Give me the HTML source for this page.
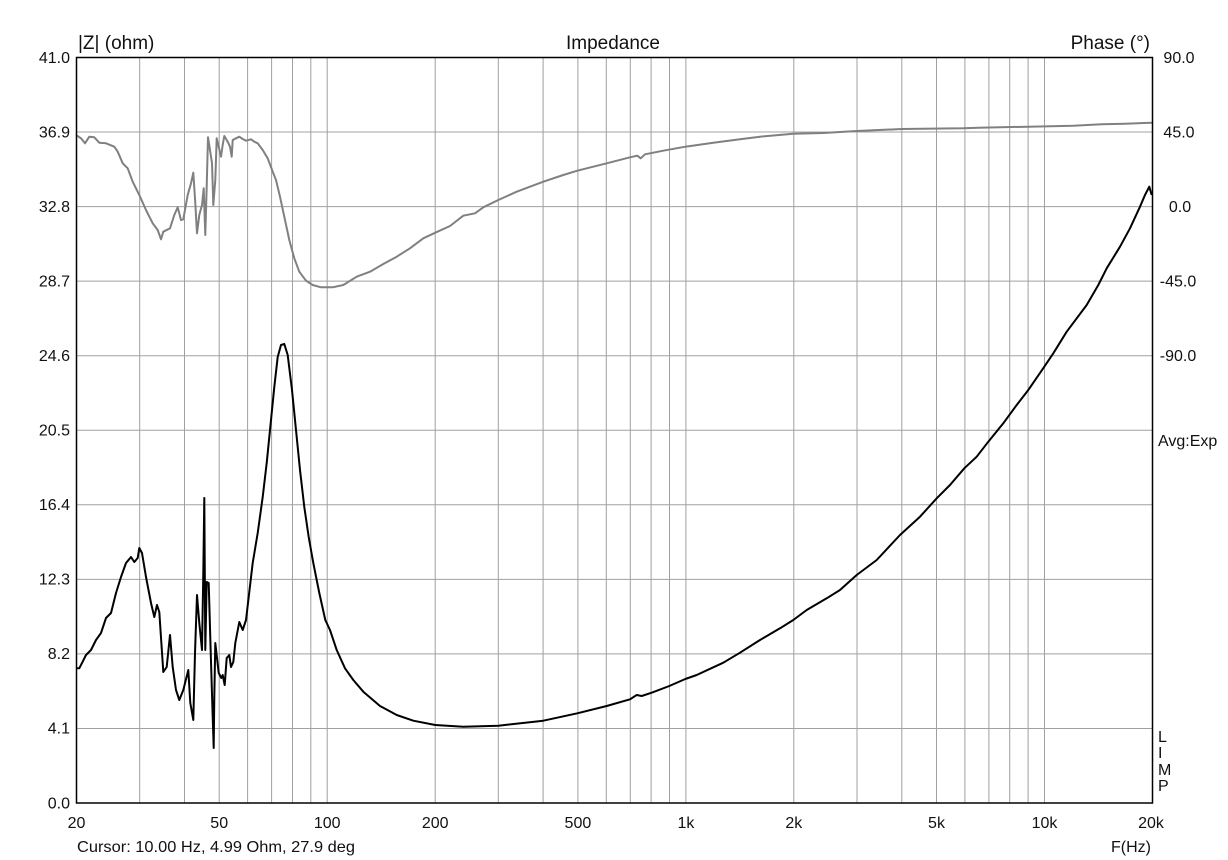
<!DOCTYPE html>
<html><head><meta charset="utf-8"><style>
html,body{margin:0;padding:0;background:#fff;}
svg{display:block;}
text{font-family:"Liberation Sans",Arial,sans-serif;font-size:16px;fill:#111;}
.t{font-size:19px;}
</style></head><body>
<svg width="1228" height="860" viewBox="0 0 1228 860" xmlns="http://www.w3.org/2000/svg">
<rect x="0" y="0" width="1228" height="860" fill="#fff"/>
<g stroke="#a0a0a0" stroke-width="1" fill="none">
<path d="M139.7 57.5V803M184.5 57.5V803M219.2 57.5V803M247.6 57.5V803M271.6 57.5V803M292.5 57.5V803M310.8 57.5V803M327.2 57.5V803M435.2 57.5V803M498.3 57.5V803M543.1 57.5V803M577.9 57.5V803M606.3 57.5V803M630.3 57.5V803M651.1 57.5V803M669.5 57.5V803M685.9 57.5V803M793.8 57.5V803M857 57.5V803M901.8 57.5V803M936.5 57.5V803M964.9 57.5V803M988.9 57.5V803M1009.7 57.5V803M1028.1 57.5V803M1044.5 57.5V803"/>
<path d="M76.5 132.05H1152.5M76.5 206.6H1152.5M76.5 281.15H1152.5M76.5 355.7H1152.5M76.5 430.25H1152.5M76.5 504.8H1152.5M76.5 579.35H1152.5M76.5 653.9H1152.5M76.5 728.45H1152.5"/>
</g>
<polyline fill="none" stroke="#808080" stroke-width="2" stroke-linejoin="round" points="76,135 81,138.3 85,143.3 89.3,136.7 94.3,137.3 99.3,142.7 106,143.3 114.3,146.7 117.7,151.7 122.7,163.3 127.7,168.3 132.7,181.7 139.3,195 146,210 152.7,223.3 157.7,230 161,239.3 163.3,231.7 170,228.3 174.3,215 177.7,207.3 181,220 183.3,219.3 187.7,195 191,183.3 193.3,172.7 195.3,203.3 197,233.3 199.3,215 202,205 203.7,188.3 205.3,235 206.7,186.7 208,137.3 210,150 212,163.3 213.3,205 215.3,180 216.7,138.3 218.7,146.7 221,156.7 222.7,145 224.3,136 227.7,141.7 230,146.7 231.7,156.7 232.7,140 236,138.3 239.3,136.7 242.7,139 246,140.7 251,139.3 254.3,141.7 257.7,143.3 262.7,150 267.7,158.3 272.7,171.7 276,180 280,196.7 284.3,216.7 289.3,240 294.3,258.3 299.3,271.7 306,280.7 312.7,285 321,287.3 332.7,287.3 343.3,285 356.7,276.7 370,271.7 383.3,264 396.7,256.7 410,248.3 423.3,238.3 435.3,232.7 450,226 463.3,215.7 475,213.3 483.3,207.3 498.3,200 516.7,191.7 543.3,181.7 563.3,175 577.3,170.7 606.7,163.3 630,157.3 637.3,155.7 640.7,158.3 645,154.3 663.3,150.7 685.3,146.7 713.3,142.7 740,139.3 760,136.7 793.3,133.7 823.3,133 856.7,131 901.7,129 963.3,128.3 978.3,127.7 1028.3,126.7 1073.3,125.7 1101.7,124.3 1125,123.7 1152.5,122.7"/>
<polyline fill="none" stroke="#000" stroke-width="2" stroke-linejoin="round" points="76,668.3 79.3,668.3 86,655 91,650 96,640 101,633 106,618 111,613 116,593 121,577 126,563 131,557 134.3,562 137.7,558 139.3,548 142,553 146,577 151,603 154.3,617 157,605 159.3,612 163.3,672 166.7,667 170,635 172.7,667 176,690 179.3,700 183.3,690 188.3,670 190.3,703 193.3,720 195,653 197,595 199.3,623 202,650 203.3,573 204.3,498 205.3,650 206.7,582 208.7,583 210.7,652 212.7,717 213.7,748 214.3,697 215.3,643 218.7,673 221.3,678 222.7,675 224.7,685 226.7,658 229.3,655 231,667 233.3,662 235.3,643 239.3,622 242.7,630 246,620 248.7,597 252.7,563 257.7,533 262.7,497 266.7,463 270,430 274.3,387 277.7,357 281,345 284.3,344 287.7,355 292,390 296,430 300,470 304.3,507 308.7,537 313.3,563 319.3,593 325.3,620 330,630 336.7,650 345,668.3 353.3,680 363.3,691.7 380,706 396.7,715 413.3,720.7 435.3,725 463.3,726.7 498.3,725.7 543.3,720.7 577.3,713.3 606.7,706 630,699.3 636.7,695 641.7,696 651.7,692.7 669.3,686 685.3,679 696.7,675 723.3,662.7 740,652.7 760,640 780,628.3 793.3,620 806.7,610 826.7,598.3 840,590 856.7,575 876.7,560 900,535 920,516.7 936.7,498.3 950,485 964.3,468.3 976.7,456.7 988.3,441.7 1003.3,423.3 1016.7,405 1028.3,390 1044.3,366.7 1053.3,353.3 1066.7,331.7 1086.7,305 1098.3,285 1106.7,268.3 1120,246.7 1130,228.3 1140,206.7 1145,195 1149.3,186.7 1151.7,195"/>
<rect x="76.5" y="57.5" width="1076" height="745.5" fill="none" stroke="#000" stroke-width="1.5"/>
<text class="t" x="78" y="49">|Z| (ohm)</text>
<text class="t" x="613" y="49" text-anchor="middle">Impedance</text>
<text class="t" x="1150" y="49" text-anchor="end">Phase (°)</text>
<g text-anchor="end">
<text x="70" y="63">41.0</text>
<text x="70" y="137.5">36.9</text>
<text x="70" y="212">32.8</text>
<text x="70" y="286.5">28.7</text>
<text x="70" y="361">24.6</text>
<text x="70" y="435.5">20.5</text>
<text x="70" y="510">16.4</text>
<text x="70" y="584.5">12.3</text>
<text x="70" y="659">8.2</text>
<text x="70" y="733.5">4.1</text>
<text x="70" y="808.5">0.0</text>
</g>
<g text-anchor="middle">
<text x="1179" y="63">90.0</text>
<text x="1179" y="137.5">45.0</text>
<text x="1180" y="212">0.0</text>
<text x="1178" y="286.5">-45.0</text>
<text x="1178" y="361">-90.0</text>
</g>
<text x="1158" y="446">Avg:Exp</text>
<text x="1158" y="742">L</text>
<text x="1158" y="758">I</text>
<text x="1158" y="775">M</text>
<text x="1158" y="791">P</text>
<g text-anchor="middle">
<text x="76.5" y="828">20</text>
<text x="219.2" y="828">50</text>
<text x="327.2" y="828">100</text>
<text x="435.2" y="828">200</text>
<text x="577.9" y="828">500</text>
<text x="685.9" y="828">1k</text>
<text x="793.8" y="828">2k</text>
<text x="936.5" y="828">5k</text>
<text x="1044.5" y="828">10k</text>
<text x="1151" y="828">20k</text>
</g>
<text x="77" y="852" textLength="278" lengthAdjust="spacingAndGlyphs">Cursor: 10.00 Hz, 4.99 Ohm, 27.9 deg</text>
<text x="1151" y="852" text-anchor="end">F(Hz)</text>
</svg>
</body></html>
